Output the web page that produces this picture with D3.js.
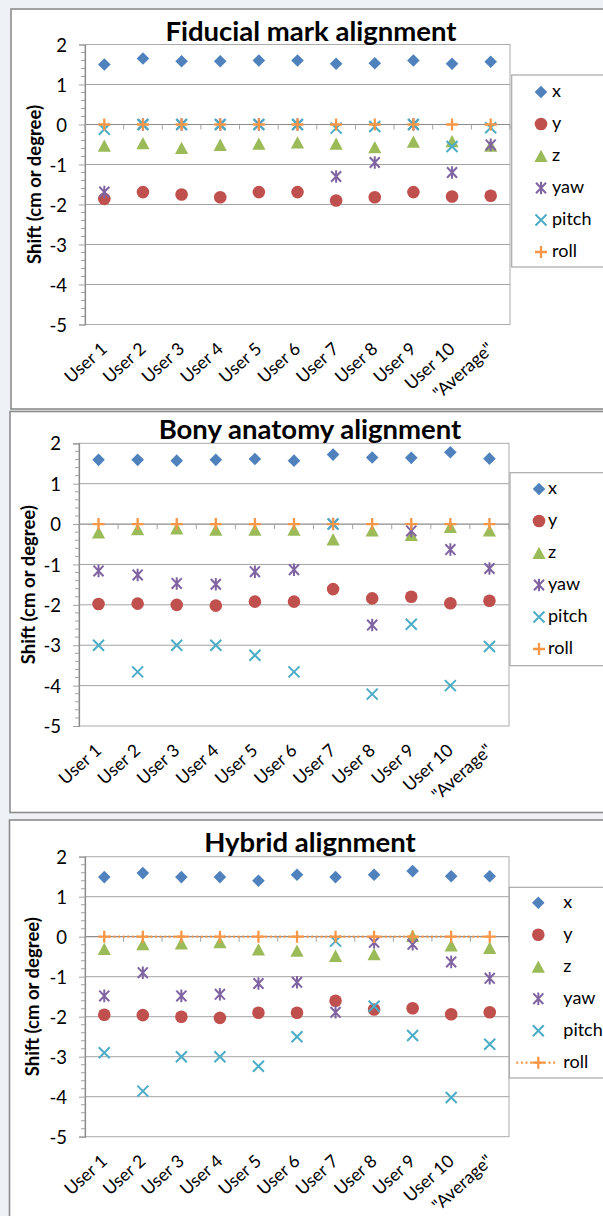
<!DOCTYPE html>
<html>
<head>
<meta charset="utf-8">
<script src="https://cdn.jsdelivr.net/npm/d3@7"></script>
<style>
  html, body { margin: 0; padding: 0; background: #eef2f6; }
  svg { display: block; }
  text { font-family: Lato, "Open Sans", "DejaVu Sans", sans-serif; fill: #000; }
</style>
</head>
<body>
<svg id="chart" width="603" height="1216"></svg>
<script>
// ---------------- DATA ----------------
const categories = ["User 1", "User 2", "User 3", "User 4", "User 5", "User 6",
                    "User 7", "User 8", "User 9", "User 10", "\"Average\""];
const seriesNames = ["x", "y", "z", "yaw", "pitch", "roll"];
const yTicks = [2, 1, 0, -1, -2, -3, -4, -5];
const titles = ["Fiducial mark alignment", "Bony anatomy alignment", "Hybrid alignment"];
const yAxisTitle = "Shift (cm or degree)";

// Fiducial mark alignment
const fidX     = [1.50, 1.65, 1.58, 1.58, 1.60, 1.60, 1.52, 1.53, 1.60, 1.52, 1.57];
const fidY     = [-1.86, -1.69, -1.75, -1.82, -1.69, -1.69, -1.90, -1.82, -1.69, -1.80, -1.78];
const fidZ     = [-0.53, -0.47, -0.59, -0.51, -0.48, -0.45, -0.48, -0.57, -0.43, -0.42, -0.53];
const fidYaw   = [-1.69, 0, 0, 0, 0, 0, -1.30, -0.95, 0, -1.20, -0.51];
const fidPitch = [-0.12, 0, 0, 0, 0, 0, -0.09, -0.05, 0, -0.55, -0.08];
const fidRoll  = [0, 0, 0, 0, 0, 0, 0, 0, 0, 0, 0];

// Bony anatomy alignment
const bonyX     = [1.59, 1.59, 1.57, 1.59, 1.61, 1.57, 1.72, 1.65, 1.64, 1.78, 1.62];
const bonyY     = [-1.98, -1.97, -2.00, -2.02, -1.92, -1.92, -1.61, -1.84, -1.80, -1.96, -1.90];
const bonyZ     = [-0.21, -0.13, -0.11, -0.14, -0.14, -0.14, -0.38, -0.16, -0.27, -0.07, -0.16];
const bonyYaw   = [-1.16, -1.26, -1.47, -1.49, -1.18, -1.13, 0, -2.50, -0.17, -0.63, -1.10];
const bonyPitch = [-3.00, -3.66, -3.00, -3.00, -3.25, -3.66, 0, -4.21, -2.48, -4.00, -3.03];
const bonyRoll  = [0, 0, 0, 0, 0, 0, 0, 0, 0, 0, 0];

// Hybrid alignment
const hybX     = [1.49, 1.59, 1.49, 1.49, 1.40, 1.55, 1.49, 1.55, 1.64, 1.51, 1.51];
const hybY     = [-1.95, -1.96, -2.00, -2.03, -1.90, -1.90, -1.60, -1.82, -1.79, -1.94, -1.89];
const hybZ     = [-0.31, -0.19, -0.17, -0.14, -0.32, -0.35, -0.48, -0.44, 0.02, -0.22, -0.28];
const hybYaw   = [-1.48, -0.90, -1.48, -1.44, -1.17, -1.14, -1.89, -0.14, -0.19, -0.63, -1.04];
const hybPitch = [-2.90, -3.86, -3.00, -3.00, -3.24, -2.50, -0.11, -1.74, -2.47, -4.02, -2.69];
const hybRoll  = [0, 0, 0, 0, 0, 0, 0, 0, 0, 0, 0];

// ---------------- STYLE / LAYOUT ----------------
const colors = ["#4F81BD", "#C0504D", "#9BBB59", "#8064A2", "#4BACC6", "#F79646"];

const markerPaths = {
  x:     "M0,-6.3L6.3,0L0,6.3L-6.3,0Z",
  y:     "M6.3,0A6.3,6.3 0 1,1 -6.3,0A6.3,6.3 0 1,1 6.3,0Z",
  z:     "M0,-6.3L6.6,6L-6.6,6Z",
  yaw:   "M-5,-5.3L5,5.3M-5,5.3L5,-5.3M0,-6.3L0,6.3",
  pitch: "M-5.5,-5.5L5.5,5.5M-5.5,5.5L5.5,-5.5",
  roll:  "M-6,0L6,0M0,-6L0,6"
};
const filled = { x: true, y: true, z: true, yaw: false, pitch: false, roll: false };
const strokeW = { yaw: 2, pitch: 2, roll: 2.3 };

const panels = [
  { title: titles[0], series: [fidX, fidY, fidZ, fidYaw, fidPitch, fidRoll],
    frame: { x: 11, y: 9, w: 640, h: 400 },
    plot: { l: 85, r: 510, t: 44.5, b: 324.5 },
    titleX: 311, titleY: 40.5, ylabX: 34.6,
    legend: { l: 511.7, t: 75, b: 267, y0: 92, mx: 541, tx: 552 },
    rollLine: false },
  { title: titles[1], series: [bonyX, bonyY, bonyZ, bonyYaw, bonyPitch, bonyRoll],
    frame: { x: 10, y: 411.5, w: 640, h: 401 },
    plot: { l: 79, r: 509, t: 443.3, b: 726 },
    titleX: 310, titleY: 439, ylabX: 29,
    legend: { l: 510, t: 472.7, b: 665.7, y0: 489, mx: 539, tx: 548 },
    rollLine: false },
  { title: titles[2], series: [hybX, hybY, hybZ, hybYaw, hybPitch, hybRoll],
    frame: { x: 9.5, y: 820, w: 640, h: 420 },
    plot: { l: 85, r: 509, t: 856.7, b: 1136.7 },
    titleX: 310, titleY: 851.7, ylabX: 32.7,
    legend: { l: 509.3, t: 887.3, b: 1078, y0: 902.7, mx: 538.3, tx: 563.3 },
    rollLine: true }
];

const svg = d3.select("#chart");
svg.append("rect").attr("width", 603).attr("height", 1216).attr("fill", "#eef2f6");

function drawMarker(g, name, i, cx, cy) {
  const p = g.append("path")
    .attr("d", markerPaths[name])
    .attr("transform", `translate(${cx},${cy})`);
  if (filled[name]) {
    p.attr("fill", colors[i]).attr("stroke", "none");
  } else {
    p.attr("fill", "none").attr("stroke", colors[i])
     .attr("stroke-width", strokeW[name]).attr("stroke-linecap", "butt");
  }
  return p;
}

panels.forEach(P => {
  const g = svg.append("g");

  // chart frame
  g.append("rect")
    .attr("x", P.frame.x).attr("y", P.frame.y)
    .attr("width", P.frame.w).attr("height", P.frame.h)
    .attr("fill", "#ffffff").attr("stroke", "#8c8c8c").attr("stroke-width", 1.6);

  const x = d3.scaleBand().domain(categories).range([P.plot.l, P.plot.r]).padding(0);
  const y = d3.scaleLinear().domain([-5, 2]).range([P.plot.b, P.plot.t]);

  // gridlines (major)
  g.append("g").selectAll("line").data(yTicks.filter(v => v !== 2 && v !== -5 && v !== 0))
    .join("line")
    .attr("x1", P.plot.l).attr("x2", P.plot.r)
    .attr("y1", d => y(d)).attr("y2", d => y(d))
    .attr("stroke", "#a3a3a3").attr("stroke-width", 1);

  // plot area border
  g.append("rect")
    .attr("x", P.plot.l).attr("y", P.plot.t)
    .attr("width", P.plot.r - P.plot.l).attr("height", P.plot.b - P.plot.t)
    .attr("fill", "none").attr("stroke", "#ababab").attr("stroke-width", 1);

  // Y axis using d3.axisLeft (major)
  const yAxis = d3.axisLeft(y).tickValues(yTicks).tickSize(6).tickPadding(12)
    .tickFormat(d => String(d));
  const ya = g.append("g").attr("transform", `translate(${P.plot.l},0)`).call(yAxis);
  ya.select(".domain").attr("stroke", "#8c8c8c").attr("stroke-width", 1.2);
  ya.selectAll(".tick line").attr("stroke", "#a3a3a3");
  ya.selectAll(".tick text")
    .attr("font-family", "Lato, 'Open Sans', sans-serif")
    .attr("font-size", 18.5).attr("fill", "#000").attr("dy", "0.36em");

  // minor ticks
  const minor = d3.range(-5, 2.0001, 0.2).map(v => Math.round(v * 10) / 10)
    .filter(v => Math.abs(v - Math.round(v)) > 0.01);
  g.append("g").selectAll("line").data(minor).join("line")
    .attr("x1", P.plot.l - 4).attr("x2", P.plot.l)
    .attr("y1", d => y(d)).attr("y2", d => y(d))
    .attr("stroke", "#a3a3a3").attr("stroke-width", 1);

  // horizontal axis at y = 0 with category boundary ticks
  const y0 = y(0);
  g.append("line")
    .attr("x1", P.plot.l).attr("x2", P.plot.r)
    .attr("y1", y0).attr("y2", y0)
    .attr("stroke", "#8c8c8c").attr("stroke-width", 1.2);
  const bounds = categories.map(c => x(c)).concat([x(categories[categories.length - 1]) + x.bandwidth()]);
  g.append("g").selectAll("line").data(bounds).join("line")
    .attr("x1", d => d).attr("x2", d => d)
    .attr("y1", y0).attr("y2", y0 + 5)
    .attr("stroke", "#a3a3a3").attr("stroke-width", 1);

  // category labels (low position, rotated)
  g.append("g").selectAll("text").data(categories).join("text")
    .attr("transform", d => `translate(${x(d) + x.bandwidth() / 2 + 4},${P.plot.b + 26}) rotate(-42)`)
    .attr("text-anchor", "end")
    .attr("font-size", 17.5)
    .text(d => d);

  // y axis title
  g.append("text")
    .attr("transform", `translate(${P.ylabX},${(P.plot.t + P.plot.b) / 2}) rotate(-90)`)
    .attr("text-anchor", "middle").attr("dy", "0.33em")
    .attr("font-weight", 700).attr("font-size", 18.5)
    .text(yAxisTitle);

  // title
  g.append("text")
    .attr("x", P.titleX).attr("y", P.titleY)
    .attr("text-anchor", "middle")
    .attr("font-weight", 700).attr("font-size", 27.5)
    .text(P.title);

  // series
  P.series.forEach((vals, si) => {
    const name = seriesNames[si];
    const sg = g.append("g");
    if (name === "roll" && P.rollLine) {
      const line = d3.line().x((d, i) => x(categories[i]) + x.bandwidth() / 2).y(d => y(d));
      sg.append("path").attr("d", line(vals))
        .attr("fill", "none").attr("stroke", colors[si])
        .attr("stroke-width", 2.2).attr("stroke-dasharray", "2,2.6");
    }
    vals.forEach((v, i) => {
      drawMarker(sg, name, si, x(categories[i]) + x.bandwidth() / 2, y(v));
    });
  });

  // legend
  const L = P.legend;
  g.append("rect")
    .attr("x", L.l).attr("y", L.t).attr("width", 700 - L.l).attr("height", L.b - L.t)
    .attr("fill", "#ffffff").attr("stroke", "#a8a8a8").attr("stroke-width", 1.2);
  seriesNames.forEach((name, si) => {
    const ly = L.y0 + si * 32;
    if (name === "roll" && P.rollLine) {
      g.append("line").attr("x1", L.mx - 22).attr("x2", L.mx + 18)
        .attr("y1", ly).attr("y2", ly)
        .attr("stroke", colors[si]).attr("stroke-width", 2.2).attr("stroke-dasharray", "2,2.6");
    }
    drawMarker(g, name, si, L.mx, ly);
    g.append("text").attr("x", L.tx).attr("y", ly).attr("dy", "0.27em")
      .attr("font-size", 18).text(name);
  });
});
</script>
</body>
</html>
